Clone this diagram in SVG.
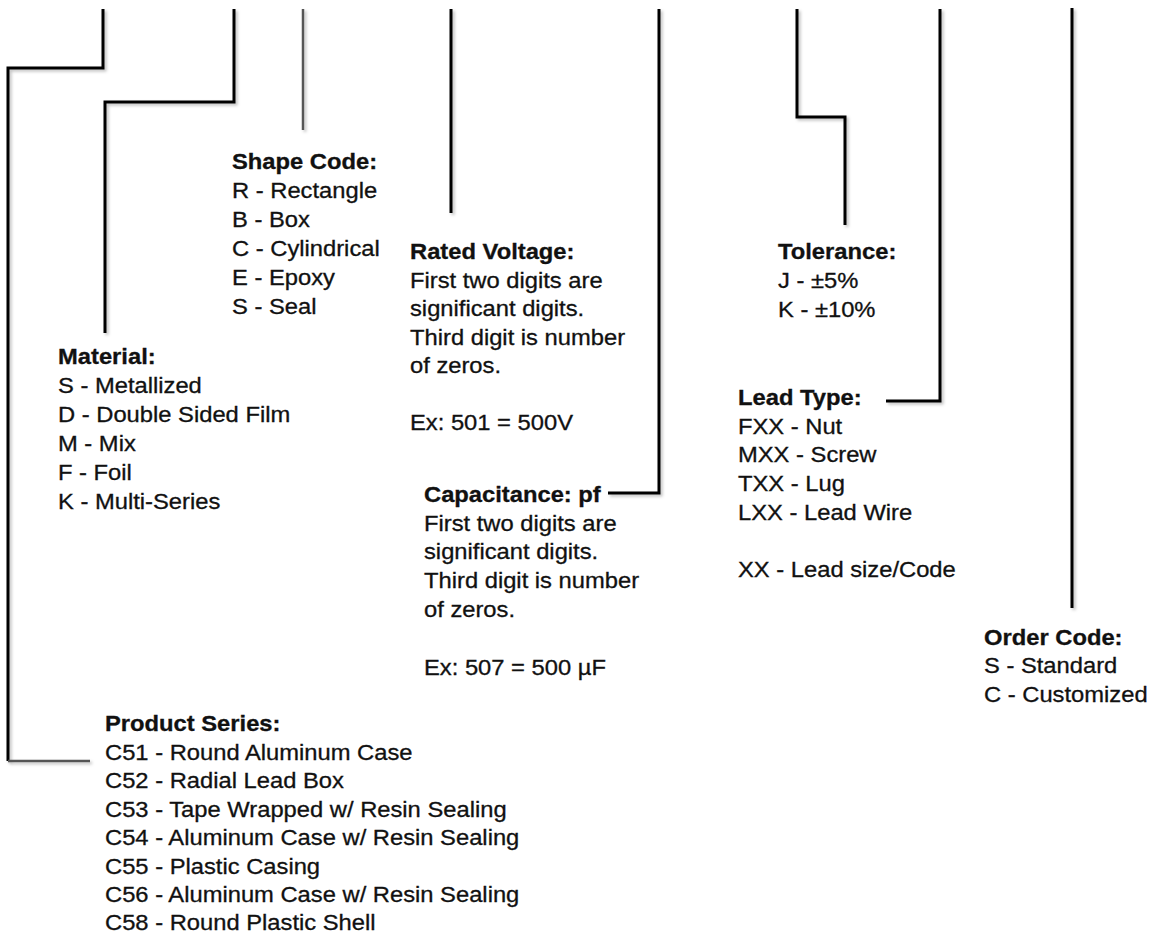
<svg xmlns="http://www.w3.org/2000/svg" width="1154" height="941" viewBox="0 0 1154 941">
<defs>
<filter id="sh" filterUnits="userSpaceOnUse" x="0" y="0" width="1154" height="941">
<feDropShadow dx="2" dy="2" stdDeviation="1.5" flood-color="#000" flood-opacity="0.25"/>
</filter>
<style>
text{font-family:"Liberation Sans",Arial,Helvetica,sans-serif;font-size:21.5px;fill:#111;stroke:#111;stroke-width:0.3}
.h{font-weight:bold}
.c{fill:none;stroke:#000;stroke-width:3;filter:url(#sh)}
.g{fill:none;stroke:#555;stroke-width:2.5;filter:url(#sh)}
</style>
</defs>
<rect width="1154" height="941" fill="#fff"/>
<g id="connectors">
<path class="c" d="M103 9V68H8V761"/>
<path class="g" d="M8 761H90"/>
<path class="c" d="M234 9V102H105V333"/>
<path class="g" d="M303 9V130"/>
<path class="c" d="M451 9V213"/>
<path class="c" d="M659 9V493H608"/>
<path class="c" d="M797 9V117H845V225"/>
<path class="c" d="M940 9V401H886"/>
<path class="c" d="M1072 8V608"/>
</g>
<g id="shape-code" transform="translate(232 0) scale(1.105 1)">
<text class="h" x="0" y="169">Shape Code:</text>
<text x="0" y="198">R - Rectangle</text>
<text x="0" y="227">B - Box</text>
<text x="0" y="256">C - Cylindrical</text>
<text x="0" y="285">E - Epoxy</text>
<text x="0" y="314">S - Seal</text>
</g>
<g id="material" transform="translate(58 0) scale(1.105 1)">
<text class="h" x="0" y="364">Material:</text>
<text x="0" y="393">S - Metallized</text>
<text x="0" y="422">D - Double Sided Film</text>
<text x="0" y="451">M - Mix</text>
<text x="0" y="480">F - Foil</text>
<text x="0" y="509">K - Multi-Series</text>
</g>
<g id="rated-voltage" transform="translate(410 0) scale(1.105 1)">
<text class="h" x="0" y="259.5">Rated Voltage:</text>
<text x="0" y="288">First two digits are</text>
<text x="0" y="316.5">significant digits.</text>
<text x="0" y="345">Third digit is number</text>
<text x="0" y="373.5">of zeros.</text>
<text x="0" y="430.5">Ex: 501 = 500V</text>
</g>
<g id="capacitance" transform="translate(424 0) scale(1.105 1)">
<text class="h" x="0" y="502">Capacitance: pf</text>
<text x="0" y="531">First two digits are</text>
<text x="0" y="559.5">significant digits.</text>
<text x="0" y="588">Third digit is number</text>
<text x="0" y="617">of zeros.</text>
<text x="0" y="675">Ex: 507 = 500 µF</text>
</g>
<g id="tolerance" transform="translate(778 0) scale(1.105 1)">
<text class="h" x="0" y="259.5">Tolerance:</text>
<text x="0" y="288.5">J - ±5%</text>
<text x="0" y="317.5">K - ±10%</text>
</g>
<g id="lead-type" transform="translate(738 0) scale(1.105 1)">
<text class="h" x="0" y="405">Lead Type:</text>
<text x="0" y="433.7">FXX - Nut</text>
<text x="0" y="462.4">MXX - Screw</text>
<text x="0" y="491.1">TXX - Lug</text>
<text x="0" y="519.8">LXX - Lead Wire</text>
<text x="0" y="577.2">XX - Lead size/Code</text>
</g>
<g id="order-code" transform="translate(984 0) scale(1.105 1)">
<text class="h" x="0" y="645">Order Code:</text>
<text x="0" y="673.5">S - Standard</text>
<text x="0" y="702">C - Customized</text>
</g>
<g id="product-series" transform="translate(105 0) scale(1.105 1)">
<text class="h" x="0" y="731.5">Product Series:</text>
<text x="0" y="760">C51 - Round Aluminum Case</text>
<text x="0" y="788.5">C52 - Radial Lead Box</text>
<text x="0" y="817">C53 - Tape Wrapped w/ Resin Sealing</text>
<text x="0" y="845.3">C54 - Aluminum Case w/ Resin Sealing</text>
<text x="0" y="873.6">C55 - Plastic Casing</text>
<text x="0" y="901.8">C56 - Aluminum Case w/ Resin Sealing</text>
<text x="0" y="930">C58 - Round Plastic Shell</text>
</g>
</svg>
